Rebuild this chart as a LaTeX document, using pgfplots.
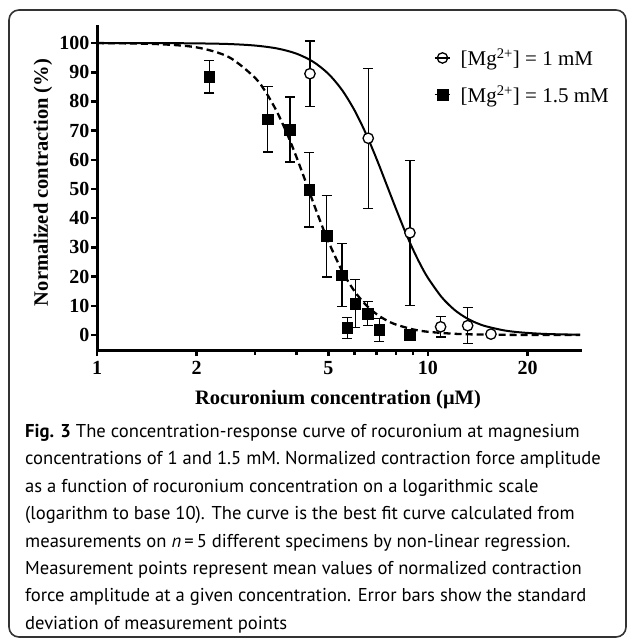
\documentclass[border=0pt]{standalone}
\usepackage{fontspec}
\setmainfont{Liberation Serif}
\newfontfamily\capfont{PT Sans}
\usepackage{pgfplots}
\pgfplotsset{compat=1.18}
\begin{document}
\begin{tikzpicture}[x=1pt,y=1pt]
\useasboundingbox (0,0) rectangle (627,-639);
\draw[line width=1.6pt, black!80, rounded corners=10pt] (9,-10) rectangle (626,-637);
\begin{axis}[
  at={(97pt,-350pt)}, anchor=south west,
  scale only axis, width=483pt, height=323pt,
  xmode=log, xmin=1, xmax=28.8, ymin=-5.14, ymax=105.5,
  axis lines=left,
  axis line style={-, line width=3pt, line cap=rect},
  xtick={1,2,5,10,20}, xticklabels={1,2,5,10,20},
  minor xtick={3,4,6,7,8,9},
  ytick={0,10,20,30,40,50,60,70,80,90,100},
  tick align=outside,
  major tick length=6pt, minor tick length=5pt,
  tick style={line width=2.5pt, black},
  /pgf/number format/assume math mode=true,
  ticklabel style={font=\fontsize{20}{20}\selectfont\bfseries},
  xticklabel style={yshift=-2pt},
  yticklabel style={xshift=2pt},
  xlabel={Rocuronium concentration (μM)},
  ylabel={Normalized contraction (\%)},
  label style={font=\fontsize{20.5}{20.5}\selectfont\bfseries},
  xlabel style={at={(axis description cs:0.499,-0.154)}, anchor=center},
  ylabel style={at={(axis description cs:-0.1118,0.5186)}, anchor=center},
  legend style={draw=none, fill=none, at={(axis description cs:0.698,0.94)}, anchor=north west,
    font=\fontsize{21}{21}\selectfont, row sep=14pt, column sep=8pt, inner sep=0pt, nodes={inner sep=2pt}},
  legend cell align=left,
  legend image code/.code={
    \draw[#1] plot coordinates {(7.5pt,0pt)};
    \draw[line width=1.3pt, black, solid] (0pt,0pt) -- (15pt,0pt);
  },
  error bars/error bar style={line width=1.3pt, black},
  error bars/error mark options={rotate=90, line width=1.3pt, mark size=5pt, black},
  clip=false,
]
% fitted curves
\addplot[black, line width=2pt, smooth, forget plot] coordinates {
 (1,100) (1.5,99.99) (2,99.89) (2.5,99.67) (3,99.15) (3.5,98.15) (4,96.40)
 (4.5,93.59) (5,89.48) (5.5,83.92) (6,76.95) (6.5,68.89) (7,60.23) (7.5,51.52)
 (8,43.30) (8.5,35.87) (9,29.44) (9.5,24.02) (10,19.55) (11,12.97) (12,8.70)
 (13,5.95) (14,4.14) (15,2.95) (17,1.57) (19,0.90) (22,0.42) (25,0.22) (28.8,0.11)
};
\addplot[black, line width=2.3pt, dash pattern=on 7pt off 4pt, smooth, forget plot] coordinates {
 (1,100) (1.5,99.68) (2,98.52) (2.5,95.22) (3,88.15) (3.25,82.83) (3.5,76.39)
 (3.75,69.02) (4,61.14) (4.25,53.15) (4.5,45.44) (4.75,38.35) (5,32.04) (5.5,21.99)
 (6,14.97) (6.5,10.26) (7,7.12) (7.5,5.01) (8,3.59) (9,1.93) (10,1.10) (12,0.42)
 (14,0.18) (17,0.06) (20,0.02) (28.8,0.01)
};
% measurement points, 1 mM
\addplot[only marks, mark=*, mark size=5.2pt, mark options={fill=white, draw=black, line width=1.3pt},
  error bars/.cd, y dir=both, y explicit] table[x=x, y=y, y error=e] {
x y e
4.40 89.5 11.2
6.60 67.4 24.0
8.82 35.0 24.8
10.92 2.8 3.5
13.18 3.2 6.1
15.5 0.3 0.6
};
\addlegendentry{[Mg\textsuperscript{2+}] = 1 mM}
% measurement points, 1.5 mM
\addplot[only marks, mark=square*, mark size=5.4pt, mark options={fill=black, draw=black, line width=0.5pt},
  error bars/.cd, y dir=both, y explicit] table[x=x, y=y, y error=e] {
x y e
2.185 88.5 5.6
3.28 73.9 11.2
3.83 70.4 11.1
4.38 49.7 12.7
4.94 33.9 14.0
5.50 20.5 10.8
5.70 2.5 3.6
6.03 10.8 8.2
6.57 7.4 4.1
7.13 1.7 3.9
8.82 0.2 0.5
};
\addlegendentry{[Mg\textsuperscript{2+}] = 1.5 mM}
\end{axis}
\node[anchor=north west, inner sep=0pt, align=left, font=\capfont\fontsize{18.6}{27.4}\selectfont] at (25,-424) {%
\textbf{Fig. 3} The concentration-response curve of rocuronium at magnesium\\
concentrations of 1 and 1.5 mM. Normalized contraction force amplitude\\
as a function of rocuronium concentration on a logarithmic scale\\
(logarithm to base 10). The curve is the best fit curve calculated from\\
measurements on \textit{n}\,=\,5 different specimens by non-linear regression.\\
Measurement points represent mean values of normalized contraction\\
force amplitude at a given concentration. Error bars show the standard\\
deviation of measurement points};
\end{tikzpicture}
\end{document}
